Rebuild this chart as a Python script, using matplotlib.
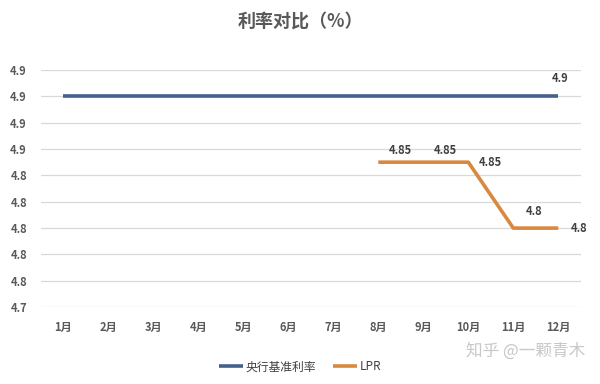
import matplotlib.pyplot as plt

plt.rcParams['font.family'] = ['Noto Sans CJK SC', 'DejaVu Sans']

months = ['1月', '2月', '3月', '4月', '5月', '6月', '7月', '8月', '9月', '10月', '11月', '12月']
base_rate = [4.9] * 12
lpr_months = ['8月', '9月', '10月', '11月', '12月']
lpr = [4.85, 4.85, 4.85, 4.8, 4.8]
yticks = [4.74, 4.76, 4.78, 4.80, 4.82, 4.84, 4.86, 4.88, 4.90, 4.92]
ytick_labels = ['4.7', '4.8', '4.8', '4.8', '4.8', '4.8', '4.9', '4.9', '4.9', '4.9']

blue = '#44608E'
orange = '#D98840'
text_col = '#595959'

fig = plt.figure(figsize=(6, 3.84), dpi=100)
ax = fig.add_axes([0.068, 0.2, 0.9, 0.618])

x_all = list(range(len(months)))
x_lpr = [months.index(m) for m in lpr_months]

ax.plot(x_all, base_rate, color=blue, lw=2.6, label='央行基准利率', solid_capstyle='butt')
ax.plot(x_lpr, lpr, color=orange, lw=2.6, label='LPR', solid_capstyle='butt')

# data labels
ax.annotate('4.9', (x_all[-1], base_rate[-1]), xytext=(1, 8), textcoords='offset points',
            ha='center', va='bottom', fontsize=8, color='#404040', fontweight='bold')
offsets = [(16, 4), (16, 4), (16, 0), (15, 7), (15, 0)]
for xi, v, (dx, dy) in zip(x_lpr, lpr, offsets):
    ax.annotate(f'{v:g}', (xi, v), xytext=(dx, dy), textcoords='offset points',
                ha='center', va='bottom' if dy else 'center', fontsize=8,
                color='#404040', fontweight='bold')

ax.set_xlim(-0.5, 11.5)
ax.set_ylim(4.74, 4.92)
ax.set_yticks(yticks)
ax.set_yticklabels(ytick_labels)
ax.set_xticks(x_all)
ax.set_xticklabels(months)
ax.tick_params(length=0, labelsize=8, labelcolor=text_col, pad=10)
for lab in ax.get_xticklabels() + ax.get_yticklabels():
    lab.set_fontweight('bold')
ax.yaxis.set_tick_params(pad=10)
ax.grid(axis='y', color='#D9D9D9', lw=0.9)
ax.set_axisbelow(True)
for s in ax.spines.values():
    s.set_visible(False)

fig.text(0.5, 0.945, '利率对比（%）', ha='center', va='center', fontsize=13,
         color=text_col, fontweight='bold')

fig.legend(loc='center', bbox_to_anchor=(0.5, 0.045), ncol=2, frameon=False,
           fontsize=8.5, handlelength=2.0, handletextpad=0.2, columnspacing=1.5,
           labelcolor='#404040')

fig.text(0.975, 0.085, '知乎 @一颗青木', ha='right', va='center', fontsize=12,
         color='#C8C8C8')

fig.savefig('out.png', dpi=100)
